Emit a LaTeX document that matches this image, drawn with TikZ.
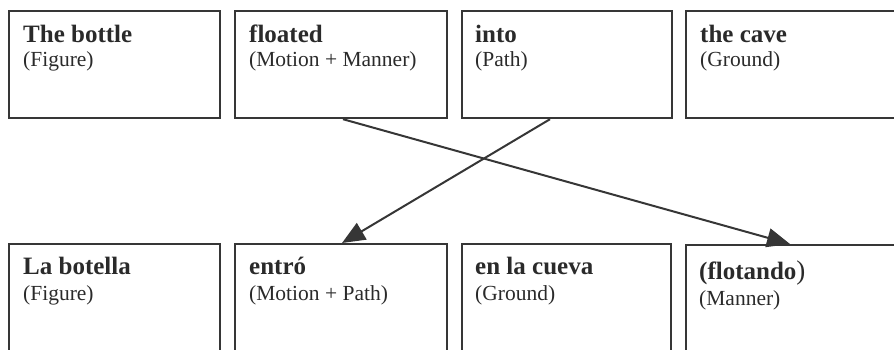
\documentclass[tikz,border=0pt]{standalone}
\usepackage{fontspec}
\setmainfont{Liberation Serif}
\usetikzlibrary{arrows.meta,calc}
\definecolor{ink}{HTML}{2A2A2A}
\definecolor{edge}{HTML}{363636}
\tikzset{
  box/.style={draw=edge,line width=2.2pt,anchor=north west,inner sep=0pt,minimum height=107pt},
  boxlow/.style={draw=edge,line width=2.2pt,anchor=north west,inner sep=0pt,minimum height=130pt},
  head/.style={anchor=base west,inner sep=0pt,text=ink,font=\fontsize{25}{28}\selectfont\bfseries},
  role/.style={anchor=base west,inner sep=0pt,text=ink,font=\fontsize{21.5}{25}\selectfont},
  arr/.style={draw=edge,line width=2pt,-{Triangle[length=23pt,width=19pt]}}
}
\begin{document}
\begin{tikzpicture}[x=1pt,y=-1pt]
\useasboundingbox (0,0) rectangle (894,349);
\clip (0,0) rectangle (894,349);
% top row
\node[box,minimum width=211pt] (t1) at (8,10) {};
\node[box,minimum width=212pt] (t2) at (234,10) {};
\node[box,minimum width=210pt] (t3) at (461,10) {};
\node[box,minimum width=230pt] (t4) at (685,10) {};
\node[head] (t1h) at (23,42) {The bottle};
\node[role] (t1r) at (23,66) {(Figure)};
\node[head] (t2h) at (249,42) {floated};
\node[role] (t2r) at (249,66) {(Motion + Manner)};
\node[head] (t3h) at (475,42) {into};
\node[role] (t3r) at (475,66) {(Path)};
\node[head] (t4h) at (700,42) {the cave};
\node[role] (t4r) at (700,66) {(Ground)};
% bottom row
\node[boxlow,minimum width=211pt] (b1) at (8,243) {};
\node[boxlow,minimum width=212pt] (b2) at (234,243) {};
\node[boxlow,minimum width=209pt] (b3) at (461,243) {};
\node[boxlow,minimum width=230pt] (b4) at (685,244) {};
\node[head] (b1h) at (23,274) {La botella};
\node[role] (b1r) at (23,300) {(Figure)};
\node[head] (b2h) at (249,274) {entró};
\node[role] (b2r) at (249,300) {(Motion + Path)};
\node[head] (b3h) at (475,274) {en la cueva};
\node[role] (b3r) at (475,300) {(Ground)};
\node[head] (b4h) at (699,279) {(flotando\textmd{\fontsize{27}{30}\selectfont)}};
\node[role] (b4r) at (699,305) {(Manner)};
% connectors
\draw[arr] ($(t2.south west)+(109,0)$) -- ($(b4.north west)+(105,0)$);
\draw[arr] ($(t3.south west)+(89,0)$) -- ($(b2.north west)+(108,0)$);
\end{tikzpicture}
\end{document}
